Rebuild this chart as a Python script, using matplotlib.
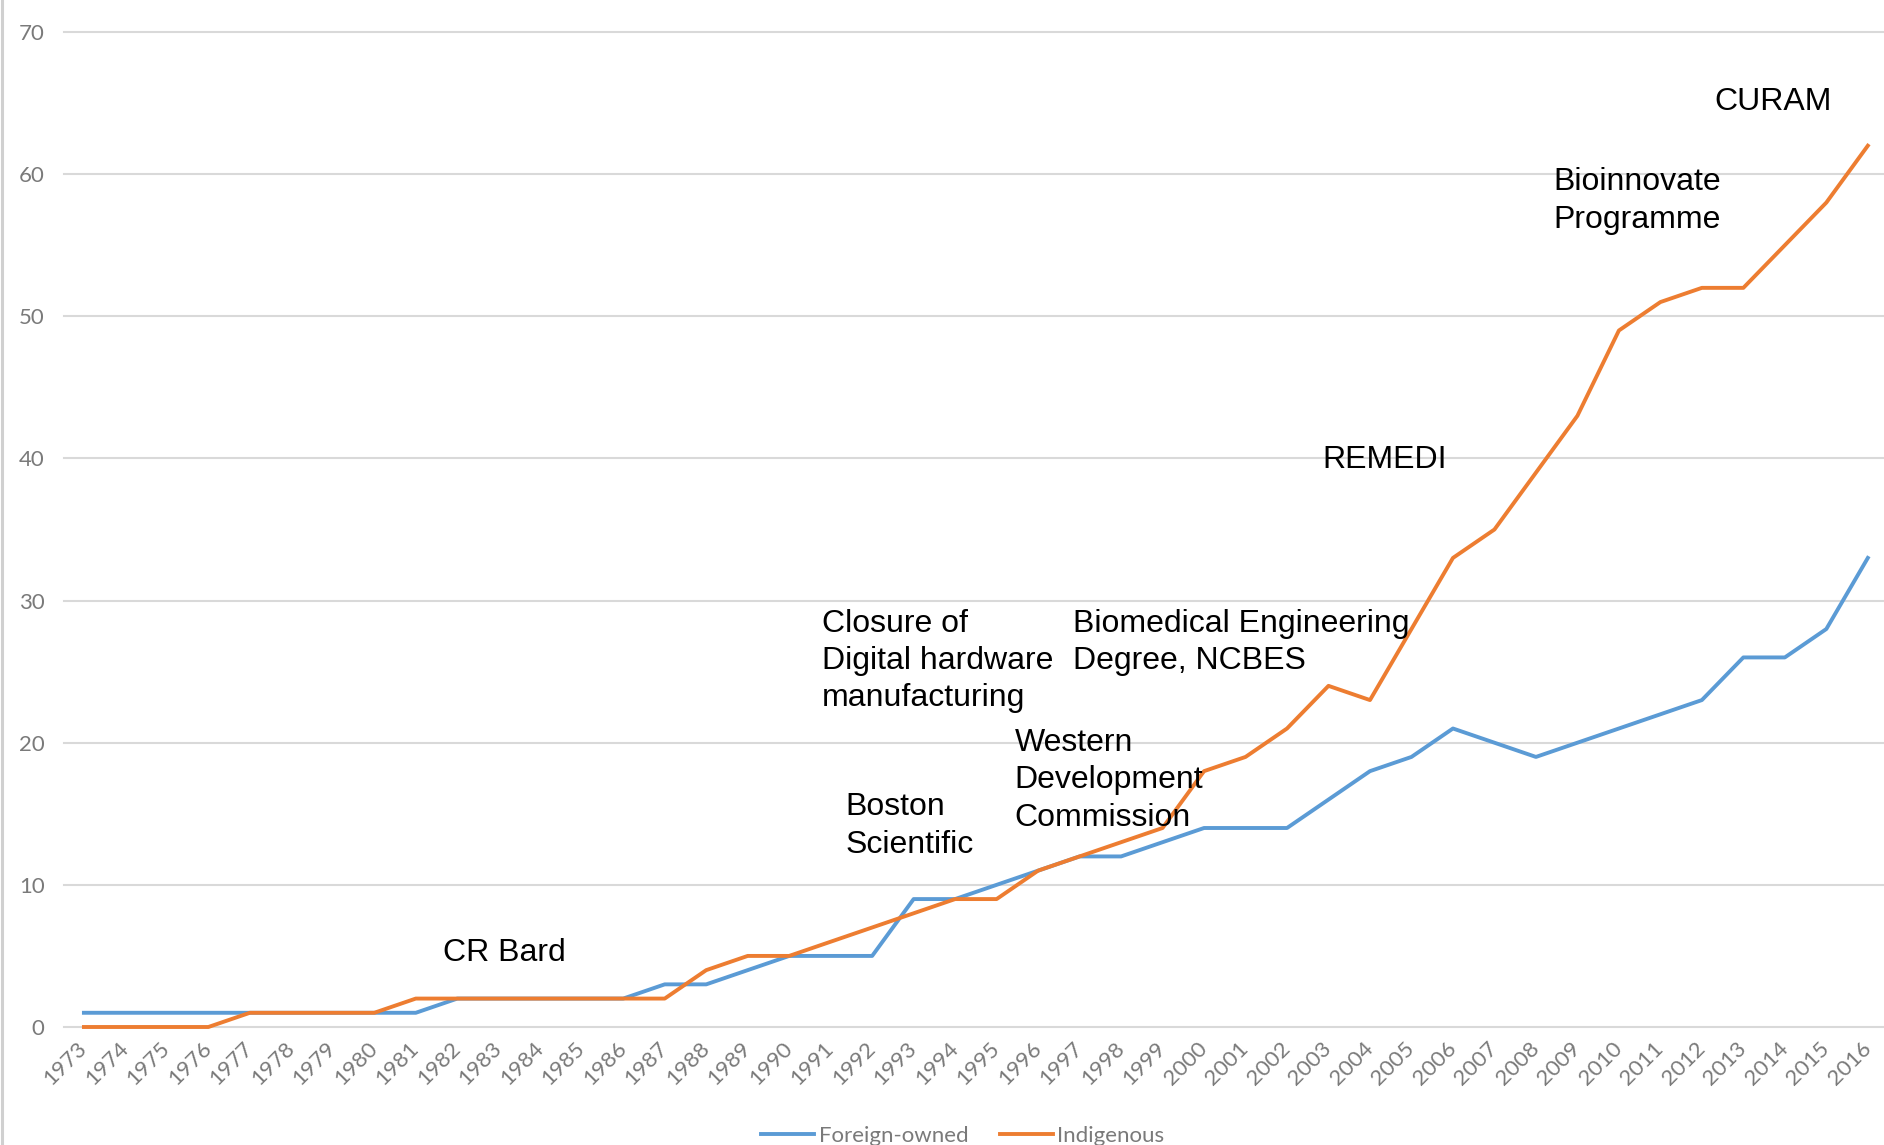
import numpy as np
import matplotlib
matplotlib.use("Agg")
import matplotlib.pyplot as plt
from matplotlib.lines import Line2D

# medtech firms per year
years = list(range(1973, 2017))
foreign = [1, 1, 1, 1, 1, 1, 1, 1, 1, 2, 2, 2, 2, 2, 3, 3, 4, 5, 5, 5, 9, 9,
           10, 11, 12, 12, 13, 14, 14, 14, 16, 18, 19, 21, 20, 19, 20, 21, 22,
           23, 26, 26, 28, 33]
indigenous = [0, 0, 0, 0, 1, 1, 1, 1, 2, 2, 2, 2, 2, 2, 2, 4, 5, 5, 6, 7, 8, 9,
              9, 11, 12, 13, 14, 18, 19, 21, 24, 23, 28, 33, 35, 39, 43, 49, 51,
              52, 52, 55, 58, 62]
series_names = ["Foreign-owned", "Indigenous"]
yticks = [0, 10, 20, 30, 40, 50, 60, 70]

# event labels: (text, year, value)
events = [
    ("CR Bard", 1981.65, 5.2),
    ("Boston\nScientific", 1991.36, 14.15),
    ("Closure of\nDigital hardware\nmanufacturing", 1990.78, 25.75),
    ("Western\nDevelopment\nCommission", 1995.43, 17.35),
    ("Biomedical Engineering\nDegree, NCBES", 1996.83, 27.05),
    ("REMEDI", 2002.86, 39.9),
    ("Bioinnovate\nProgramme", 2008.42, 58.1),
    ("CURAM", 2012.3, 65.1),
]

blue = "#5b9bd5"
orange = "#ed7d31"
grey = "#7a7a7a"

fig = plt.figure(figsize=(18.84, 11.45), dpi=100)
ax = fig.add_axes([64 / 1884, 118 / 1145, 1 - 64 / 1884, (1027 - 32) / 1145])

for yv in yticks:
    ax.axhline(yv, color="#d9d9d9", lw=1.5, zorder=0, clip_on=False)

ax.plot(years, foreign, color=blue, lw=2.8, label=series_names[0], clip_on=False)
ax.plot(years, indigenous, color=orange, lw=2.8, label=series_names[1], clip_on=False)

for txt, xv, yv in events:
    ax.text(xv, yv, txt, ha="left", va="center", fontsize=23,
            family="Liberation Sans", color="black", linespacing=1.32)

ax.set_xlim(1972.52, 2016.39)
ax.set_ylim(0, 70)
ax.set_xticks(years)
ax.set_xticklabels([str(y) for y in years], rotation=45, ha="right",
                   va="center", rotation_mode="anchor",
                   fontsize=16, family="Lato", color=grey)
ax.set_yticks(yticks)
ax.set_yticklabels([str(v) for v in yticks], fontsize=16, family="Lato", color=grey)
ax.tick_params(axis="x", length=0, pad=13)
ax.tick_params(axis="y", length=0, pad=14)
for s in ax.spines.values():
    s.set_visible(False)

fig.legend(loc="center", bbox_to_anchor=(0.511, 0.008), ncol=2, frameon=False,
           prop={"family": "Lato", "size": 16}, labelcolor=grey,
           handlelength=2.4, handletextpad=0.2, columnspacing=1.4)

# thin grey border on the left edge of the image
fig.add_artist(Line2D([0.0008, 0.0008], [0, 1], color="#d0d0d0", lw=2.2,
                      transform=fig.transFigure))

fig.savefig("out.png", dpi=100, facecolor="white")
